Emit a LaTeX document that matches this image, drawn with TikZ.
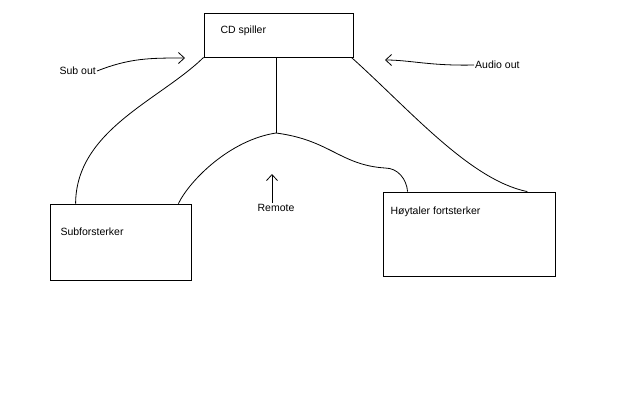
\documentclass[tikz,border=0pt]{standalone}
\usepackage{fontspec}
\setmainfont{Liberation Sans}
\usetikzlibrary{positioning, arrows.meta}

\begin{document}
\begin{tikzpicture}[x=1pt, y=-1pt, font=\fontsize{10.5}{12}\selectfont]
            \useasboundingbox[fill=white] (0,0) rectangle (640,400);
            \tikzset{unit/.style={draw, thick, minimum width=#1},
                     wire/.style={thick, line join=round},
                     pointer/.style={thick, -{Straight Barb[length=6pt, width=11pt]}}}

            \node[unit=149pt, minimum height=44pt] (cd) at (278.5,35) {};
            \node[unit=141pt, minimum height=76pt] (sub) at (120.5,242) {};
            \node[unit=172pt, minimum height=84pt] (hoyt) at (469,234) {};

            \node[anchor=west] (cdtext) at (217,31) {CD spiller};
            \node[anchor=west] (subtext) at (57,232) {Subforsterker};
            \node[anchor=west] (hoyttext) at (387,212) {Høytaler fortsterker};

            \node[anchor=east, inner sep=1pt] (subout) at (97,71) {Sub out};
            \node[anchor=west, inner sep=1pt] (audioout) at (474,65) {Audio out};
            \node[anchor=north, inner sep=1pt] (remote) at (276,203) {Remote};

            \coordinate (junction) at (276,133);
            \coordinate (subin) at (185,58);
            \coordinate (audioin) at (385,60);
            \coordinate (remotein) at (272,174);

            \draw[wire] (cd.south -| junction) -- (junction);
            \draw[wire] (cd.south west) .. controls (160,100) and (76,130) .. ([xshift=26pt]sub.north west);
            \draw[wire] ([xshift=-2pt]cd.south east) .. controls (410,110) and (470,180) .. ([xshift=-28pt]hoyt.north east);
            \draw[wire] (junction) .. controls (230,140) and (190,180) .. ([xshift=-13pt]sub.north east);
            \draw[wire] (junction) .. controls (330,140) and (340,165) .. (385,168) to[out=0, in=95] ([xshift=25pt]hoyt.north west);

            \draw[pointer] (subout.east) .. controls (130,58) and (150,58) .. (subin);
            \draw[pointer] (audioout.west) .. controls (430,66) and (410,60) .. (audioin);
            \draw[pointer] (remote.north -| remotein) -- (remotein);
        \end{tikzpicture}
\end{document}
